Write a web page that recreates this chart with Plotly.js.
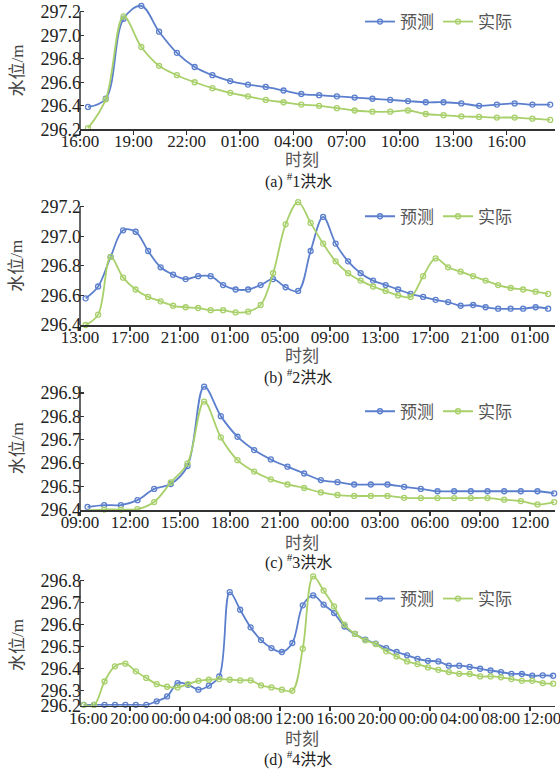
<!DOCTYPE html>
<html><head><meta charset="utf-8">
<script src="https://cdn.plot.ly/plotly-3.0.1.min.js"></script>
<style>html,body{margin:0;padding:0;background:#fff}#chart{width:560px;height:772px}</style>
</head><body><div id="chart"></div>
<script>
// ---------------- data ----------------
const seriesNames = ['预测', '实际'];

// (a) #1 flood, hourly samples
const predA = [296.39, 296.46, 297.14, 297.25, 297.03, 296.85, 296.73, 296.66, 296.61, 296.58, 296.56, 296.53, 296.50, 296.49, 296.48, 296.47, 296.46, 296.45, 296.44, 296.43, 296.43, 296.42, 296.40, 296.41, 296.42, 296.41, 296.41];
const actA  = [296.21, 296.455, 297.16, 296.90, 296.74, 296.66, 296.60, 296.55, 296.51, 296.48, 296.45, 296.43, 296.41, 296.40, 296.38, 296.36, 296.35, 296.35, 296.36, 296.33, 296.32, 296.31, 296.305, 296.30, 296.30, 296.29, 296.28];
const tickA = ['16:00', '19:00', '22:00', '01:00', '04:00', '07:00', '10:00', '13:00', '16:00'];
const tickPosA = [0, 3, 6, 9, 12, 15, 18, 21, 24];

// (b) #2 flood
const predB = [296.58, 296.66, 296.86, 297.04, 297.03, 296.90, 296.79, 296.74, 296.71, 296.73, 296.73, 296.67, 296.64, 296.64, 296.67, 296.71, 296.655, 296.63, 296.90, 297.13, 296.95, 296.83, 296.75, 296.70, 296.67, 296.64, 296.61, 296.59, 296.57, 296.555, 296.53, 296.535, 296.52, 296.51, 296.51, 296.51, 296.52, 296.51];
const actB  = [296.40, 296.47, 296.86, 296.72, 296.64, 296.59, 296.56, 296.53, 296.52, 296.515, 296.50, 296.50, 296.485, 296.49, 296.535, 296.75, 297.08, 297.23, 297.09, 296.95, 296.83, 296.75, 296.70, 296.66, 296.63, 296.60, 296.59, 296.73, 296.85, 296.79, 296.76, 296.73, 296.70, 296.67, 296.65, 296.64, 296.625, 296.61];
const tickB = ['13:00', '17:00', '21:00', '01:00', '05:00', '09:00', '13:00', '17:00', '21:00', '01:00'];
const tickPosB = [0, 4, 8, 12, 16, 20, 24, 28, 32, 36];

// (c) #3 flood
const predC = [296.389, 296.397, 296.397, 296.418, 296.466, 296.487, 296.564, 296.903, 296.777, 296.689, 296.632, 296.592, 296.561, 296.532, 296.504, 296.495, 296.485, 296.485, 296.485, 296.475, 296.466, 296.456, 296.456, 296.456, 296.456, 296.456, 296.456, 296.456, 296.447];
const actC  = [296.375, 296.378, 296.378, 296.38, 296.41, 296.494, 296.575, 296.839, 296.686, 296.589, 296.54, 296.507, 296.485, 296.47, 296.451, 296.44, 296.436, 296.436, 296.436, 296.428, 296.427, 296.427, 296.427, 296.427, 296.427, 296.42, 296.414, 296.40, 296.41];
const tickC = ['09:00', '12:00', '15:00', '18:00', '21:00', '00:00', '03:00', '06:00', '09:00', '12:00'];
const tickPosC = [0, 3, 6, 9, 12, 15, 18, 21, 24, 27];

// (d) #4 flood
const predD = [296.236, 296.236, 296.236, 296.236, 296.236, 296.236, 296.236, 296.252, 296.274, 296.335, 296.327, 296.305, 296.323, 296.365, 296.748, 296.668, 296.588, 296.53, 296.494, 296.476, 296.517, 296.688, 296.733, 296.691, 296.653, 296.592, 296.558, 296.532, 296.514, 296.494, 296.476, 296.461, 296.445, 296.436, 296.433, 296.414, 296.414, 296.408, 296.40, 296.392, 296.385, 296.377, 296.376, 296.368, 296.37, 296.368];
const actD  = [296.236, 296.236, 296.342, 296.411, 296.423, 296.388, 296.358, 296.33, 296.318, 296.315, 296.33, 296.345, 296.35, 296.353, 296.35, 296.347, 296.347, 296.324, 296.315, 296.305, 296.30, 296.491, 296.82, 296.755, 296.683, 296.60, 296.558, 296.529, 296.512, 296.479, 296.456, 296.433, 296.421, 296.406, 296.395, 296.385, 296.377, 296.376, 296.365, 296.365, 296.361, 296.353, 296.345, 296.345, 296.335, 296.332];
const tickD = ['16:00', '20:00', '00:00', '04:00', '08:00', '12:00', '16:00', '20:00', '00:00', '04:00', '08:00', '12:00'];
const tickPosD = [0, 4, 8, 12, 16, 20, 24, 28, 32, 36, 40, 44];
const markPosD = [4.04, 8.89, 13.74, 18.59, 23.44, 28.29, 33.14, 37.99, 42.84];
const yTickValsD = [296.232, 296.3, 296.4, 296.5, 296.6, 296.7, 296.8];
const yTickTextD = ['296.2', '296.3', '296.4', '296.5', '296.6', '296.7', '296.8'];

const captions = ['(a) <sup>#</sup>1洪水', '(b) <sup>#</sup>2洪水', '(c) <sup>#</sup>3洪水', '(d) <sup>#</sup>4洪水'];

// ---------------- layout helpers ----------------
const W = 560, H = 772;
const py = p => 1 - p / H;
const BLUE = '#5b7fcd', GREEN = '#a8d06a';
const AX = '#333';
const SERIF = 'Liberation Serif, Noto Sans CJK SC';
const CJK = 'Noto Sans CJK SC';

const panels = [
  {pred: predA, act: actA, x0: 0.45, dx: 1, xr: [0, 26.72], yr: [296.2, 297.28], yTop: 297.2, dom: [py(129.3), py(2.3)],
   ticks: tickPosA, labels: tickA, dtick: 0.2, yTitle: 70.5, tTitle: 158, tCap: 181, leg: 22},
  {pred: predB, act: actB, x0: 0.45, dx: 1, xr: [0, 38], yr: [296.4, 297.25], yTop: 297.2, dom: [py(325), py(199.2)],
   ticks: tickPosB, labels: tickB, dtick: 0.2, yTitle: 265.8, tTitle: 354, tCap: 377, leg: 216.7},
  {pred: predC, act: actC, x0: 0.45, dx: 1, xr: [0, 28.5], yr: [296.376, 296.91], yTop: 296.905, dom: [py(510), py(385)],
   ticks: tickPosC, labels: tickC, dtick: 0.1, yTitle: 448.3, tTitle: 541, tCap: 561, leg: 411.7},
  {pred: predD, act: actD, x0: -0.45, dx: 1.012, xr: [-0.805, 45.27], yr: [296.232, 296.83], yTop: 296.8, dom: [py(705.7), py(574.1)],
   ticks: tickPosD, labels: tickD, yvals: yTickValsD, ytext: yTickTextD, yTitle: 645, tTitle: 737, tCap: 758, leg: 599}
];

const data = [];
const layout = {
  width: W, height: H, margin: {l: 0, r: 0, t: 0, b: 0, autoexpand: false},
  paper_bgcolor: '#fff', plot_bgcolor: '#fff',
  shapes: [], annotations: [], showlegend: true
};

panels.forEach((p, k) => {
  const n = k + 1;
  const xa = 'x' + (n === 1 ? '' : n), ya = 'y' + (n === 1 ? '' : n);
  const legName = 'legend' + (n === 1 ? '' : n);
  [[p.pred, BLUE, seriesNames[0]], [p.act, GREEN, seriesNames[1]]].forEach(([vals, col, nm]) => {
    data.push({
      type: 'scatter', mode: 'lines+markers', name: nm, y: vals, x0: p.x0, dx: p.dx,
      xaxis: xa, yaxis: ya, legend: legName, cliponaxis: false,
      line: {shape: 'spline', smoothing: 1, color: col, width: 1.8},
      marker: {symbol: 'circle-open', size: 5, color: col, line: {width: 1.3}},
      hoverinfo: 'skip'
    });
  });
  layout['xaxis' + (n === 1 ? '' : n)] = {
    domain: [80 / W, 555 / W], anchor: ya, range: p.xr, showgrid: false, zeroline: false,
    showline: true, linecolor: AX, linewidth: 1.5,
    ticks: p.yvals ? '' : 'outside', ticklen: 4, tickwidth: 1.2, tickcolor: AX,
    tickmode: 'array', tickvals: p.ticks, ticktext: p.labels, tickangle: 0, ticklabeloverflow: 'allow',
    ticklabelstandoff: p.yvals ? -4 : -8,
    tickfont: {family: 'Liberation Serif', size: 17, color: '#222'}
  };
  const yax = {
    domain: p.dom, anchor: xa, range: p.yr, showgrid: false, zeroline: false, showline: false,
    ticks: 'inside', ticklen: 4, tickwidth: 1.2, tickcolor: AX, ticklabelstandoff: -2,
    tickfont: {family: 'Liberation Serif', size: 18, color: '#222'}
  };
  if (p.yvals) { yax.tickmode = 'array'; yax.tickvals = p.yvals; yax.ticktext = p.ytext; }
  else { yax.tick0 = p.yr[0]; yax.dtick = p.dtick; yax.tickformat = '.1f'; }
  layout['yaxis' + (n === 1 ? '' : n)] = yax;
  layout.shapes.push({type: 'line', xref: xa + ' domain', x0: 0, x1: 0, yref: ya, y0: p.yr[0], y1: p.yTop,
    line: {color: AX, width: 1.5}});
  layout[legName] = {
    orientation: 'h', x: 360 / W, xanchor: 'left', y: py(p.leg), yanchor: 'middle',
    bgcolor: 'rgba(0,0,0,0)', borderwidth: 0, entrywidth: 33, entrywidthmode: 'pixels',
    font: {family: CJK, size: 17, color: '#555'}
  };
  layout.annotations.push(
    {xref: 'paper', yref: 'paper', x: 17 / W, y: py(p.yTitle), xanchor: 'center', yanchor: 'middle',
     text: '水位/m', textangle: -90, showarrow: false, font: {family: SERIF, size: 17, color: '#444'}},
    {xref: 'paper', yref: 'paper', x: 302 / W, y: py(p.tTitle), xanchor: 'center', yanchor: 'middle',
     text: '时刻', showarrow: false, font: {family: CJK, size: 17, color: '#555'}},
    {xref: 'paper', yref: 'paper', x: 298 / W, y: py(p.tCap), xanchor: 'center', yanchor: 'middle',
     text: captions[k], showarrow: false, font: {family: SERIF, size: 16, color: '#222'}}
  );
});

// extra tick marks on panel (d) axis, drawn on an overlaying axis
data.push({type: 'scatter', x: [], y: [], xaxis: 'x5', yaxis: 'y4', showlegend: false, hoverinfo: 'skip'});
layout.xaxis5 = {
  overlaying: 'x4', anchor: 'y4', domain: [80 / W, 555 / W], range: panels[3].xr, showgrid: false, zeroline: false,
  showline: false, showticklabels: false, ticks: 'outside', ticklen: 4, tickwidth: 1.2, tickcolor: AX,
  tickmode: 'array', tickvals: markPosD
};

Plotly.newPlot('chart', data, layout, {staticPlot: true, displayModeBar: false});
</script></body></html>
